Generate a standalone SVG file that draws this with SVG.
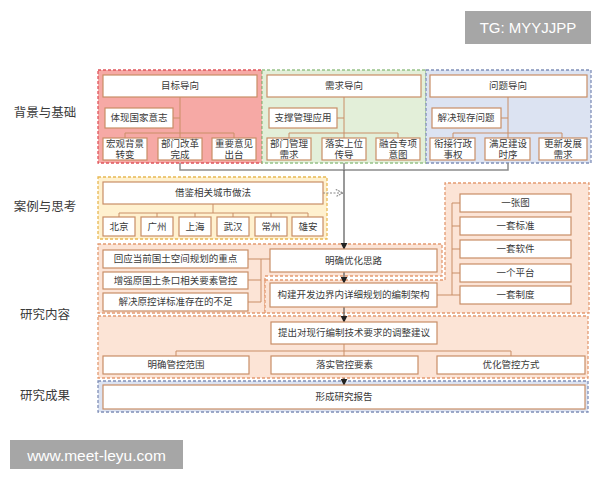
<svg xmlns="http://www.w3.org/2000/svg" width="600" height="480" viewBox="0 0 600 480">
<defs>
<style>
text{font-family:"Liberation Serif","Noto Sans CJK SC",serif;fill:#3a3a3a;text-anchor:middle;dominant-baseline:central}
.t{font-size:9.5px}
.lab{font-size:12.5px}
.box{fill:#fff;stroke:#c98e66;stroke-width:1.2}
.red{fill:#f6a9a5;stroke:#e0555c;stroke-width:1.3;stroke-dasharray:3 2}
.grn{fill:#e3efd9;stroke:#97c288;stroke-width:1.3;stroke-dasharray:3 2}
.blu{fill:#dce3f2;stroke:#8090b8;stroke-width:1.3;stroke-dasharray:3 2}
.yel{fill:#fff1cf;stroke:#e8b954;stroke-width:1.3;stroke-dasharray:3 2}
.org{fill:#fce4d6;stroke:#e39a72;stroke-width:1.3;stroke-dasharray:3 2}
.br{fill:none;stroke:#c98e66;stroke-width:1}
.gl{fill:none;stroke:#8c8c8c;stroke-width:1.5}
.ar{fill:none;stroke:#555;stroke-width:1.2}
.wm{font-family:"Liberation Sans",Arial,sans-serif;fill:#fff}
</style>
<marker id="ah" viewBox="0 0 10 10" refX="9" refY="5" markerWidth="7" markerHeight="7" markerUnits="userSpaceOnUse" orient="auto">
<path d="M0,0 L10,5 L0,10 z" fill="#222"/>
</marker>
<marker id="oh" viewBox="0 0 10 10" refX="9" refY="5" markerWidth="9" markerHeight="9" markerUnits="userSpaceOnUse" orient="auto">
<path d="M1,1 L9,5 L1,9" fill="none" stroke="#888" stroke-width="1.2" stroke-dasharray="2 1"/>
</marker>
</defs>
<rect width="600" height="480" fill="#fff"/>

<g id="labels">
<text class="lab" x="45" y="113">背景与基础</text>
<text class="lab" x="45" y="207">案例与思考</text>
<text class="lab" x="45" y="315">研究内容</text>
<text class="lab" x="45" y="396">研究成果</text>
</g>

<g id="containers">
<rect class="red" x="98" y="70" width="164" height="93"/>
<rect class="grn" x="262" y="70" width="164" height="93"/>
<rect class="blu" x="426" y="70" width="165" height="93"/>
<rect class="yel" x="98" y="177" width="229" height="62"/>
<path class="org" d="M98,244 H442 V276 H265 V313 H98 Z"/>
<path class="org" d="M265,280 H445 V183 H589 V313 H265 Z"/>
<rect class="org" x="98" y="316" width="490" height="62"/>
<rect class="blu" x="98" y="381" width="490" height="31"/>
</g>

<g id="connectors">
<path class="br" d="M173,118 H180 M180,97 V133 M125,133 H234 M125,133 V138 M180,133 V138 M234,133 V138"/>
<path class="br" d="M337,118 H344 M344,97 V133 M289,133 H398 M289,133 V138 M344,133 V138 M398,133 V138"/>
<path class="br" d="M501,118 H508 M508,97 V133 M453,133 H562 M453,133 V138 M508,133 V138 M562,133 V138"/>
<path class="gl" d="M180,163 V170 H508 V163 M344,163 V170"/>
<path class="ar" d="M344,170 V249" marker-end="url(#ah)"/>
<path d="M323,193 H343" fill="none" stroke="#888" stroke-width="1.1" stroke-dasharray="2 1.5" marker-end="url(#oh)"/>
<path class="br" d="M213,204 V213 M119,213 H308 M119,213 V217 M157,213 V217 M195,213 V217 M233,213 V217 M271,213 V217 M308,213 V217"/>
<path class="br" d="M248,259 H270 M248,280 H261 M248,302 H261 M261,259 V302"/>
<path class="ar" d="M344,272 V283" marker-end="url(#ah)"/>
<path class="br" d="M437,295 H452 M452,203 V295 M452,203 H460 M452,226 H460 M452,249 H460 M452,273 H460 M452,295 H460"/>
<path class="ar" d="M344,307 V322" marker-end="url(#ah)"/>
<path class="br" d="M344,344 V356 M176,351 H511 M176,351 V356 M511,351 V356"/>
<path class="ar" d="M344,378 V385" marker-end="url(#ah)"/>
</g>

<g id="n-mubiao"><rect class="box" x="103" y="75" width="154" height="22"/><text class="t" x="180" y="86">目标导向</text></g>
<g id="n-tixian"><rect class="box" x="105" y="108" width="68" height="20"/><text class="t" x="139" y="118">体现国家意志</text></g>
<g id="n-hongguan"><rect class="box" x="103" y="138" width="44" height="22"/><text class="t" x="125" y="144">宏观背景</text><text class="t" x="125" y="155">转变</text></g>
<g id="n-bumengaige"><rect class="box" x="158" y="138" width="44" height="22"/><text class="t" x="180" y="144">部门改革</text><text class="t" x="180" y="155">完成</text></g>
<g id="n-zhongyao"><rect class="box" x="212" y="138" width="44" height="22"/><text class="t" x="234" y="144">重要意见</text><text class="t" x="234" y="155">出台</text></g>

<g id="n-xuqiu"><rect class="box" x="267" y="75" width="154" height="22"/><text class="t" x="344" y="86">需求导向</text></g>
<g id="n-zhicheng"><rect class="box" x="269" y="108" width="68" height="20"/><text class="t" x="303" y="118">支撑管理应用</text></g>
<g id="n-bumenguanli"><rect class="box" x="267" y="138" width="44" height="22"/><text class="t" x="289" y="144">部门管理</text><text class="t" x="289" y="155">需求</text></g>
<g id="n-luoshi"><rect class="box" x="322" y="138" width="44" height="22"/><text class="t" x="344" y="144">落实上位</text><text class="t" x="344" y="155">传导</text></g>
<g id="n-ronghe"><rect class="box" x="376" y="138" width="44" height="22"/><text class="t" x="398" y="144">融合专项</text><text class="t" x="398" y="155">意图</text></g>

<g id="n-wenti"><rect class="box" x="430" y="75" width="157" height="22"/><text class="t" x="508" y="86">问题导向</text></g>
<g id="n-jiejue"><rect class="box" x="432" y="108" width="69" height="20"/><text class="t" x="466" y="118">解决现存问题</text></g>
<g id="n-xianjie"><rect class="box" x="430" y="138" width="45" height="22"/><text class="t" x="453" y="144">衔接行政</text><text class="t" x="453" y="155">事权</text></g>
<g id="n-manzu"><rect class="box" x="485" y="138" width="45" height="22"/><text class="t" x="508" y="144">满足建设</text><text class="t" x="508" y="155">时序</text></g>
<g id="n-gengxin"><rect class="box" x="539" y="138" width="48" height="22"/><text class="t" x="563" y="144">更新发展</text><text class="t" x="563" y="155">需求</text></g>

<g id="n-jiejian"><rect class="box" x="103" y="182" width="220" height="22"/><text class="t" x="213" y="193">借鉴相关城市做法</text></g>
<g id="n-beijing"><rect class="box" x="103" y="217" width="32" height="19"/><text class="t" x="119" y="226.5">北京</text></g>
<g id="n-guangzhou"><rect class="box" x="141" y="217" width="32" height="19"/><text class="t" x="157" y="226.5">广州</text></g>
<g id="n-shanghai"><rect class="box" x="179" y="217" width="32" height="19"/><text class="t" x="195" y="226.5">上海</text></g>
<g id="n-wuhan"><rect class="box" x="217" y="217" width="32" height="19"/><text class="t" x="233" y="226.5">武汉</text></g>
<g id="n-changzhou"><rect class="box" x="255" y="217" width="32" height="19"/><text class="t" x="271" y="226.5">常州</text></g>
<g id="n-xiongan"><rect class="box" x="292" y="217" width="31" height="19"/><text class="t" x="308" y="226.5">雄安</text></g>

<g id="n-huiying"><rect class="box" x="103" y="250" width="145" height="18"/><text class="t" x="175.5" y="259">回应当前国土空间规划的重点</text></g>
<g id="n-zengqiang"><rect class="box" x="103" y="272" width="145" height="17"/><text class="t" x="175.5" y="280.5">增强原国土条口相关要素管控</text></g>
<g id="n-jiejuebuzu"><rect class="box" x="103" y="293" width="145" height="18"/><text class="t" x="175.5" y="302">解决原控详标准存在的不足</text></g>
<g id="n-mingque"><rect class="box" x="270" y="249" width="167" height="23"/><text class="t" x="353.5" y="260.5">明确优化思路</text></g>
<g id="n-goujian"><rect class="box" x="270" y="283" width="167" height="24"/><text class="t" x="353.5" y="295">构建开发边界内详细规划的编制架构</text></g>

<g id="n-yizhangtu"><rect class="box" x="460" y="194" width="111" height="18"/><text class="t" x="515.5" y="203">一张图</text></g>
<g id="n-biaozhun"><rect class="box" x="460" y="217" width="111" height="18"/><text class="t" x="515.5" y="226">一套标准</text></g>
<g id="n-ruanjian"><rect class="box" x="460" y="240" width="111" height="18"/><text class="t" x="515.5" y="249">一套软件</text></g>
<g id="n-pingtai"><rect class="box" x="460" y="264" width="111" height="18"/><text class="t" x="515.5" y="273">一个平台</text></g>
<g id="n-zhidu"><rect class="box" x="460" y="286" width="111" height="18"/><text class="t" x="515.5" y="295">一套制度</text></g>

<g id="n-tichu"><rect class="box" x="271" y="322" width="166" height="22"/><text class="t" x="354" y="333">提出对现行编制技术要求的调整建议</text></g>
<g id="n-fanwei"><rect class="box" x="103" y="356" width="146" height="18"/><text class="t" x="176" y="365">明确管控范围</text></g>
<g id="n-yaosu"><rect class="box" x="271" y="356" width="147" height="18"/><text class="t" x="344.5" y="365">落实管控要素</text></g>
<g id="n-fangshi"><rect class="box" x="437" y="356" width="148" height="18"/><text class="t" x="511" y="365">优化管控方式</text></g>

<g id="n-baogao"><rect class="box" x="103" y="385" width="482" height="24"/><text class="t" x="344" y="397">形成研究报告</text></g>

<g id="watermarks">
<rect x="465" y="11" width="126" height="33" fill="#a6a6a6"/>
<text class="wm" x="528" y="27.5" font-size="15">TG: MYYJJPP</text>
<rect x="10" y="440" width="173" height="29" fill="#a6a6a6"/>
<text class="wm" x="96.5" y="455" font-size="15.5">www.meet-leyu.com</text>
</g>
</svg>
